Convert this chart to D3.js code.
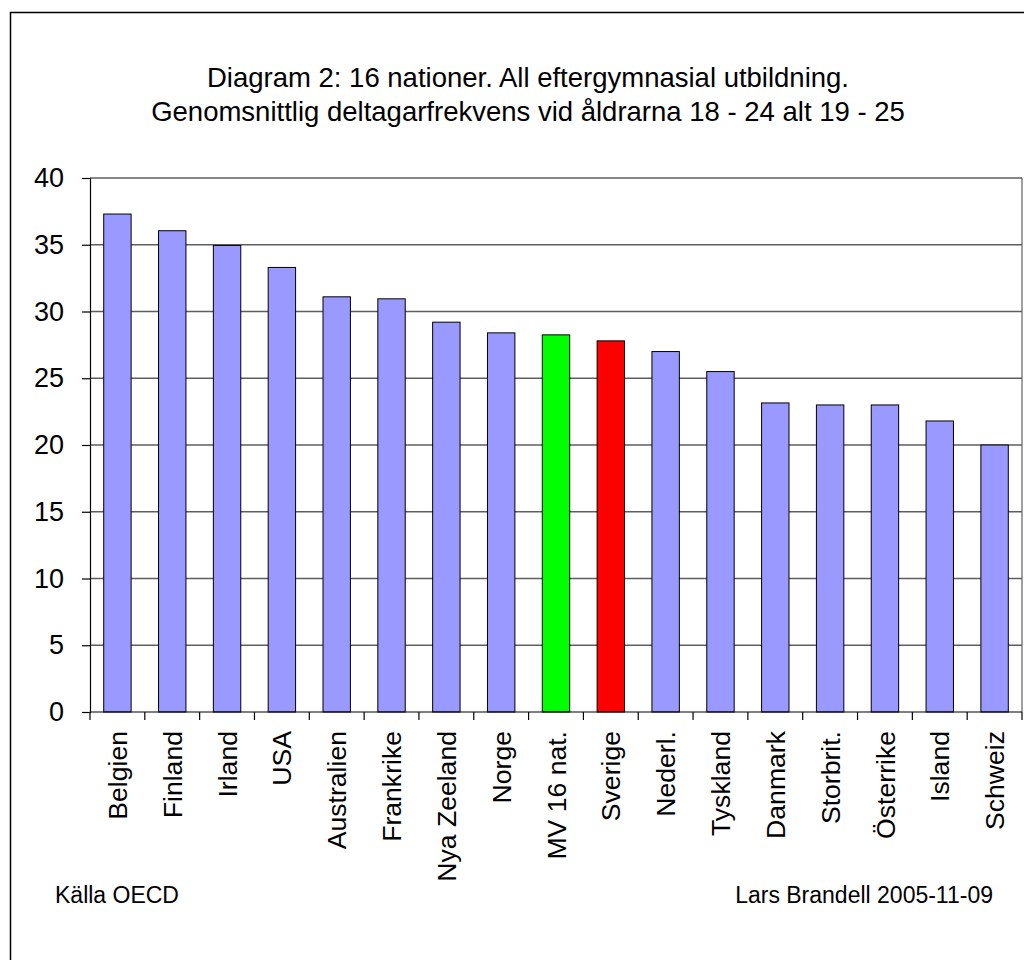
<!DOCTYPE html>
<html>
<head>
<meta charset="utf-8">
<script src="https://cdn.jsdelivr.net/npm/d3@7"></script>
<style>
  html, body { margin: 0; padding: 0; background: #fff; }
  svg { display: block; font-family: "Liberation Sans", Arial, sans-serif; }
</style>
</head>
<body>
<svg id="chart" width="1024" height="960"></svg>
<script>
const categories = ["Belgien", "Finland", "Irland", "USA", "Australien", "Frankrike", "Nya Zeeland", "Norge", "MV 16 nat.", "Sverige", "Nederl.", "Tyskland", "Danmark", "Storbrit.", "Österrike", "Island", "Schweiz"];
const values = [37.3, 36.05, 34.95, 33.3, 31.1, 30.95, 29.2, 28.4, 28.25, 27.8, 27.0, 25.5, 23.15, 23.0, 23.0, 21.8, 20.0];
const highlight = { "MV 16 nat.": "#00FF00", "Sverige": "#FF0000" };
const yTicks = [0, 5, 10, 15, 20, 25, 30, 35, 40];
const titleLines = ["Diagram 2: 16 nationer. All eftergymnasial utbildning.", "Genomsnittlig deltagarfrekvens vid åldrarna 18 - 24 alt 19 - 25"];
const sourceText = "Källa OECD";
const authorText = "Lars Brandell 2005-11-09";

const svg = d3.select("#chart");
const W = 1024, H = 960;
const plot = { left: 90, right: 1022, top: 178, bottom: 712 };

// outer frame
svg.append("rect")
  .attr("x", 10.5).attr("y", 12.5)
  .attr("width", W + 20).attr("height", H + 20)
  .attr("fill", "#fff").attr("stroke", "#000").attr("stroke-width", 1.5);

// title
svg.append("g").selectAll("text").data(titleLines).join("text")
  .attr("x", 528).attr("y", (d, i) => 87 + i * 34)
  .attr("text-anchor", "middle")
  .attr("font-size", 27.5)
  .attr("fill", "#000")
  .text(d => d);

const x = d3.scaleBand().domain(categories).range([plot.left, plot.right]).paddingInner(0.5).paddingOuter(0.25);
const y = d3.scaleLinear().domain([0, 40]).range([plot.bottom, plot.top]);

// plot area right border
svg.append("line")
  .attr("x1", plot.right).attr("x2", plot.right)
  .attr("y1", plot.top).attr("y2", plot.bottom)
  .attr("stroke", "#808080").attr("stroke-width", 1.5);

// gridlines
svg.append("g").selectAll("line").data(yTicks.filter(t => t > 0)).join("line")
  .attr("x1", plot.left).attr("x2", plot.right)
  .attr("y1", d => y(d)).attr("y2", d => y(d))
  .attr("stroke", "#5e5e5e").attr("stroke-width", 1.6);

// bars
svg.append("g").selectAll("rect").data(categories).join("rect")
  .attr("x", d => x(d))
  .attr("y", (d, i) => y(values[i]))
  .attr("width", x.bandwidth())
  .attr("height", (d, i) => y(0) - y(values[i]))
  .attr("fill", d => highlight[d] || "#9999FF")
  .attr("stroke", "#000").attr("stroke-width", 1);

// y axis
const yAxis = d3.axisLeft(y).tickValues(yTicks).tickSize(8).tickPadding(18);
const gy = svg.append("g").attr("transform", `translate(${plot.left},0)`).call(yAxis);
gy.select(".domain").attr("stroke", "#000").attr("stroke-width", 1.2);
gy.selectAll(".tick line").attr("stroke", "#000").attr("stroke-width", 1.2);
gy.selectAll(".tick text").attr("font-size", 27).attr("font-family", "Liberation Sans, Arial, sans-serif").attr("fill", "#000");

// x axis baseline
svg.append("line")
  .attr("x1", plot.left).attr("x2", plot.right)
  .attr("y1", plot.bottom).attr("y2", plot.bottom)
  .attr("stroke", "#000").attr("stroke-width", 1.2);

// x ticks at band boundaries
const boundaries = categories.map(c => x(c) - x.step() * x.paddingInner() / 2);
boundaries.push(plot.right);
svg.append("g").selectAll("line").data(boundaries).join("line")
  .attr("x1", d => d).attr("x2", d => d)
  .attr("y1", plot.bottom).attr("y2", plot.bottom + 8)
  .attr("stroke", "#000").attr("stroke-width", 1.2);

// category labels
svg.append("g").selectAll("text").data(categories).join("text")
  .attr("transform", d => `translate(${x(d) + x.bandwidth() / 2},731) rotate(-90)`)
  .attr("text-anchor", "end")
  .attr("dy", "0.36em")
  .attr("font-size", 26.6)
  .attr("fill", "#000")
  .text(d => d);

// footer
svg.append("text").attr("x", 55).attr("y", 903).attr("font-size", 23).attr("fill", "#000").text(sourceText);
svg.append("text").attr("x", 993).attr("y", 903).attr("text-anchor", "end").attr("font-size", 23).attr("fill", "#000").text(authorText);
</script>
</body>
</html>
